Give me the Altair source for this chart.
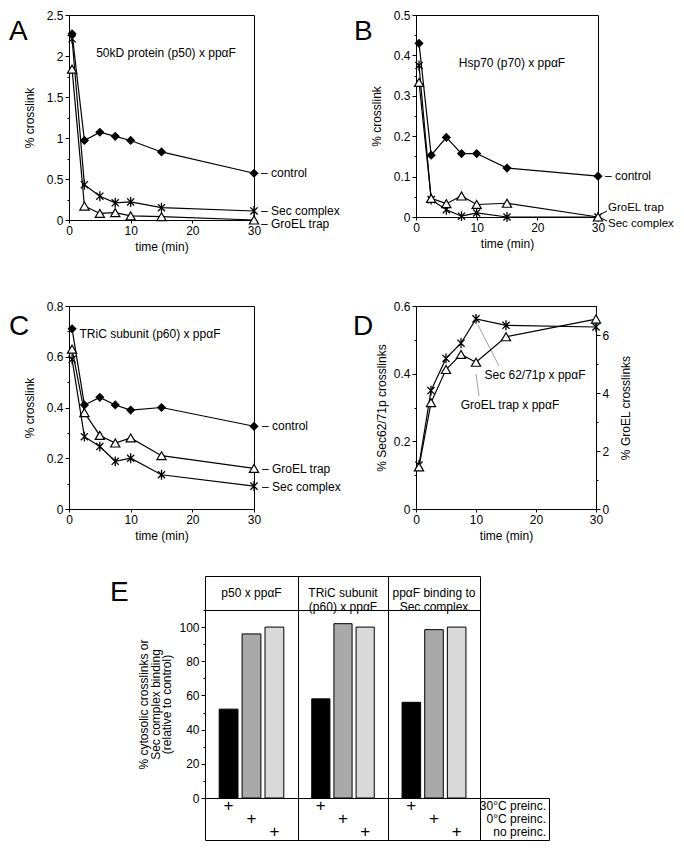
import altair as alt
import pandas as pd

FONT = "Liberation Sans"

# ---------------- data ----------------
times = [0.5, 2.5, 5, 7.5, 10, 15, 30]

a_control = [2.27, 0.97, 1.07, 1.02, 0.97, 0.83, 0.57]
a_sec = [2.21, 0.43, 0.29, 0.21, 0.22, 0.15, 0.11]
a_groel = [1.84, 0.17, 0.08, 0.09, 0.05, 0.04, 0.0]

b_control = [0.43, 0.153, 0.197, 0.157, 0.157, 0.121, 0.101]
b_sec = [0.375, 0.043, 0.018, 0.002, 0.01, 0.0, 0.0]
b_groel = [0.333, 0.046, 0.033, 0.052, 0.031, 0.034, 0.0]

c_control = [0.71, 0.41, 0.44, 0.41, 0.39, 0.40, 0.326]
c_groel = [0.63, 0.38, 0.29, 0.26, 0.28, 0.21, 0.16]
c_sec = [0.59, 0.285, 0.246, 0.188, 0.20, 0.135, 0.09]

d_sec = [0.13, 0.35, 0.445, 0.49, 0.562, 0.543, 0.538]
d_groel = [1.45, 3.67, 4.81, 5.33, 5.06, 5.94, 6.55]

e_header_lines = [["p50 x ppαF"], ["TRiC subunit", "(p60) x ppαF"], ["ppαF binding to", "Sec complex"]]
e_conditions = ["30°C preinc.", "0°C preinc.", "no preinc."]
e_values = [[52, 96, 100], [58, 102, 100], [56, 98.5, 100]]
e_colors = ["#000000", "#a9a9a9", "#d9d9d9"]

STAR = "M-0.8,-0.8L0.8,0.8M-0.8,0.8L0.8,-0.8M0,-1.1L0,1.1"
ONE = pd.DataFrame({"k": [0]})


# ---------------- helpers ----------------
def js_list(vals):
    return "[" + ",".join(repr(float(v)) for v in vals) + "]"


def y_axis(major, minor, title, orient="left", tp=9, **kw):
    vals = sorted(set(major) | set(minor))
    maj = js_list(major)
    return alt.Axis(
        values=vals, orient=orient, title=title, format="~f",
        labelExpr=f"indexof({maj}, datum.value) >= 0 ? datum.label : ''",
        tickSize={"condition": {"test": f"indexof({maj}, datum.value) >= 0", "value": 4}, "value": 2},
        labelPadding=2, titlePadding=tp, labelFlush=False, labelOverlap=False,
        titleFontWeight="normal", titleFont=FONT, titleFontSize=12, **kw)


def x_axis():
    return alt.Axis(values=[0, 10, 20, 30], title="time (min)", format="~f", tickSize=3,
                    labelPadding=2, titlePadding=5, labelFlush=False, labelOverlap=False,
                    titleFontWeight="normal", titleFont=FONT, titleFontSize=12)


def series_layers(vals, kind, xs, ys, xax, yax):
    df = pd.DataFrame({"t": times, "v": vals})
    base = alt.Chart(df)
    enc = dict(x=alt.X("t:Q", scale=xs, axis=xax), y=alt.Y("v:Q", scale=ys, axis=yax))
    line = base.mark_line(color="black", strokeWidth=1.2).encode(**enc)
    if kind == "diamond":
        pts = base.mark_point(shape="diamond", filled=True, color="black", size=85, opacity=1)
    elif kind == "triangle":
        pts = base.mark_point(shape="triangle-up", filled=True, fill="white", stroke="black",
                              strokeWidth=1.2, size=85, opacity=1)
    else:
        pts = base.mark_point(shape=STAR, filled=False, color="black", strokeWidth=1.3, size=80, opacity=1)
    return [line, pts.encode(**enc)]


def text_at(lines, x, y, align="left", size=12, baseline="middle", lh=13):
    return alt.Chart(ONE).mark_text(text=lines, align=align, baseline=baseline, fontSize=size,
                                    font=FONT, color="black", lineHeight=lh).encode(
        x=alt.value(x), y=alt.value(y))


def leader(x1, y1, x2, y2, color="black", w=1.0):
    return alt.Chart(ONE).mark_rule(color=color, strokeWidth=w).encode(
        x=alt.value(x1), y=alt.value(y1), x2=alt.value(x2), y2=alt.value(y2))


def xy_panel(series, ydom, ymaj, ymin, ytitle, tp, w, h, extras):
    xs = alt.Scale(domain=[0, 30], nice=False)
    ys = alt.Scale(domain=ydom, nice=False)
    xax = x_axis()
    yax = y_axis(ymaj, ymin, ytitle, "left", tp)
    layers = []
    for vals, kind in series:
        layers += series_layers(vals, kind, xs, ys, xax, yax)
    layers += extras
    return alt.layer(*layers).properties(width=w, height=h)


# ---------------- panel A ----------------
A = xy_panel(
    [(a_control, "diamond"), (a_sec, "star"), (a_groel, "triangle")],
    [0, 2.5], [0, 0.5, 1, 1.5, 2, 2.5], [0.25, 0.75, 1.25, 1.75, 2.25],
    "% crosslink", 10, 185, 205,
    [text_at("50kD protein (p50) x ppαF", 97, 38, align="center"),
     text_at("– control", 192, 158), text_at("– Sec complex", 192, 196),
     text_at("– GroEL trap", 192, 209),
     text_at("A", -60, 25, size=28, baseline="alphabetic")])

# ---------------- panel B ----------------
B = xy_panel(
    [(b_control, "diamond"), (b_sec, "star"), (b_groel, "triangle")],
    [0, 0.5], [0, 0.1, 0.2, 0.3, 0.4, 0.5], [0.05, 0.15, 0.25, 0.35, 0.45],
    "% crosslink", 10, 182, 202,
    [text_at("Hsp70 (p70) x ppαF", 96, 48, align="center"),
     text_at("– control", 189, 161),
     leader(185, 199, 191, 196), leader(185, 203, 191, 206),
     text_at("GroEL trap", 192, 193, size=11.5), text_at("Sec complex", 192, 209, size=11.5),
     text_at("B", -62, 25, size=28, baseline="alphabetic")])

# ---------------- panel C ----------------
C = xy_panel(
    [(c_control, "diamond"), (c_groel, "triangle"), (c_sec, "star")],
    [0, 0.8], [0, 0.2, 0.4, 0.6, 0.8], [0.1, 0.3, 0.5, 0.7],
    "% crosslink", 10, 185, 203,
    [text_at("TRiC subunit (p60) x ppαF", 81, 28, align="center"),
     text_at("– control", 193, 120), text_at("– GroEL trap", 193, 163),
     text_at("– Sec complex", 193, 181),
     text_at("C", -60, 29, size=28, baseline="alphabetic")])

# ---------------- panel D ----------------
xsD = alt.Scale(domain=[0, 30], nice=False)
ysL = alt.Scale(domain=[0, 0.6], nice=False)
ysR = alt.Scale(domain=[0, 7], nice=False)
xaxD = x_axis()
yaxL = y_axis([0, 0.2, 0.4, 0.6], [0.1, 0.3, 0.5], "% Sec62/71p crosslinks", "left", 5)
yaxR = y_axis([0, 2, 4, 6], [1, 3, 5], "% GroEL crosslinks", "right", 12,
              titleAngle=270, titleBaseline="top")
left_group = alt.layer(
    *series_layers(d_sec, "star", xsD, ysL, xaxD, yaxL),
    leader(62, 19, 83, 60, color="#888888", w=0.8),
    leader(60, 68, 63, 90, color="#888888", w=0.8),
    text_at("Sec 62/71p x ppαF", 119, 69, align="center"),
    text_at("GroEL trap x ppαF", 94, 99, align="center"),
    text_at("D", -63, 29, size=28, baseline="alphabetic"))
right_group = alt.layer(*series_layers(d_groel, "triangle", xsD, ysR, xaxD, yaxR))
D = alt.layer(left_group, right_group).resolve_scale(y="independent").properties(width=180, height=203)

grid_ad = alt.concat(A, B, C, D, columns=2, spacing={"row": 86, "column": 162}, bounds="flush")

# ---------------- panel E ----------------
TRANSPARENT = alt.ViewBackground(stroke="transparent")
SPACER_W = 136
COL_W = [93, 90, 92]
LAB_W = 69


def blank(w, h):
    return alt.Chart(ONE).mark_text(text="").encode(x=alt.value(0), y=alt.value(0)).properties(
        width=w, height=h, view=TRANSPARENT)


def e_scale_x():
    return alt.Scale(type="band", domain=e_conditions, paddingInner=0.18, paddingOuter=0.62)


def e_scale_row():
    return alt.Scale(type="point", domain=e_conditions, padding=0.67)


headers, bars, pluses = [], [], []
for i, w in enumerate(COL_W):
    df = pd.DataFrame({"cond": e_conditions, "v": e_values[i]})
    headers.append(text_at(e_header_lines[i], w / 2, 17, align="center", lh=13.5).properties(width=w, height=34))
    if i == 0:
        yax = y_axis([0, 20, 40, 60, 80, 100], [10, 30, 50, 70, 90, 110],
                     ["% cytosolic crosslinks or", "Sec complex binding", "(relative to control)"],
                     "left", 5, titleLineHeight=11.5)
    else:
        yax = None
    bars.append(alt.Chart(df).mark_bar(stroke="black", strokeWidth=1).encode(
        x=alt.X("cond:N", scale=e_scale_x(), axis=None, sort=e_conditions),
        y=alt.Y("v:Q", scale=alt.Scale(domain=[0, 110], nice=False), axis=yax),
        color=alt.Color("cond:N", scale=alt.Scale(domain=e_conditions, range=e_colors), legend=None),
    ).properties(width=w, height=188))
    pluses.append(alt.Chart(df).mark_text(text="+", fontSize=17, font=FONT, color="black").encode(
        x=alt.X("cond:N", scale=e_scale_x(), axis=None, sort=e_conditions),
        y=alt.Y("cond:N", scale=e_scale_row(), axis=None),
    ).properties(width=w, height=42))

labels = alt.Chart(pd.DataFrame({"cond": e_conditions})).mark_text(
    align="right", fontSize=12, font=FONT, color="black").encode(
    x=alt.value(66),
    y=alt.Y("cond:N", scale=e_scale_row(), axis=None),
    text="cond:N").properties(width=LAB_W, height=42)

letterE = text_at("E", 41, 25, size=28, baseline="alphabetic").properties(
    width=SPACER_W, height=34, view=TRANSPARENT)

grid_e = alt.concat(
    letterE, *headers, blank(LAB_W, 34),
    blank(SPACER_W, 188), *bars, blank(LAB_W, 188),
    blank(SPACER_W, 42), *pluses, labels,
    columns=5, spacing=0, bounds="flush")

chart = alt.vconcat(grid_ad, grid_e, spacing=27,
                    padding={"left": 0, "top": 0, "right": 0, "bottom": 0}).configure(
    font=FONT, background="white").configure_view(
    stroke="black", strokeWidth=1).configure_axis(
    domainColor="black", tickColor="black", labelColor="black", titleColor="black",
    labelFont=FONT, titleFont=FONT, labelFontSize=12, titleFontSize=12,
    titleFontWeight="normal", grid=False, tickWidth=1, domainWidth=1)

chart.save("out.html", embed_options={"renderer": "svg", "actions": False})
